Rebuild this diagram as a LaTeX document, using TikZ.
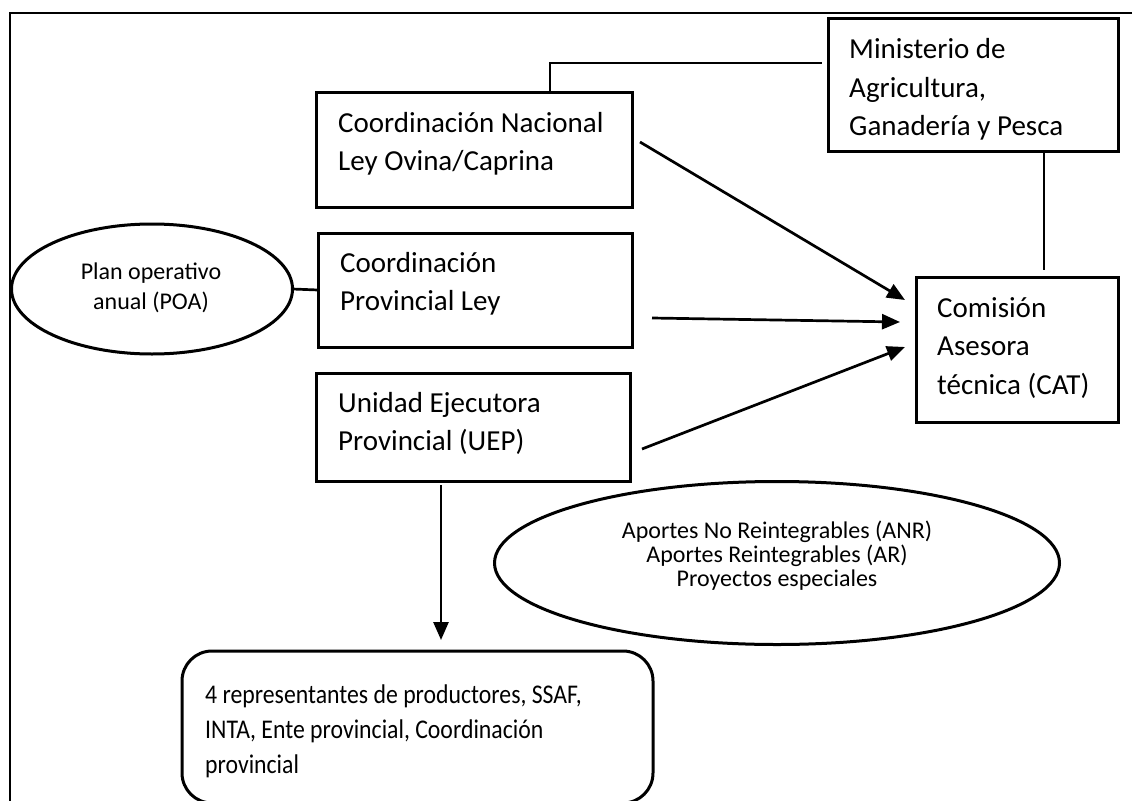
\documentclass[tikz,border=0pt]{standalone}
\usepackage{fontspec}
\setmainfont{Carlito}
\newfontfamily\narrowfont[FakeStretch=0.88]{Carlito}
\usetikzlibrary{arrows.meta,shapes.geometric,calc}
\newcommand\lftlines[1]{\begin{tabular}[t]{@{}l@{}}#1\end{tabular}}
\newcommand\ctrlines[1]{\begin{tabular}[t]{@{}c@{}}#1\end{tabular}}
\begin{document}
\begin{tikzpicture}[x=1pt,y=-1pt,
  box/.style={draw, line width=3pt, rectangle, anchor=north west, inner sep=0pt, outer sep=0pt},
  oval/.style={draw, line width=3pt, ellipse, inner sep=0pt, outer sep=0pt},
  bigtxt/.style={font=\fontsize{29}{38.5}\selectfont, anchor=base west, inner sep=0pt},
  reptxt/.style={font=\narrowfont\fontsize{27}{35}\selectfont, anchor=base west, inner sep=0pt},
  smalltxt/.style={font=\fontsize{24}{30}\selectfont, anchor=base, inner sep=0pt},
  anrtxtstyle/.style={font=\fontsize{24}{23.5}\selectfont, anchor=base, inner sep=0pt},
  conn/.style={line width=2.7pt},
  arr/.style={line width=2.7pt, -{Triangle[length=18pt,width=15pt]}}]
\useasboundingbox (0,0) rectangle (1137,800);
% frame
\draw[line width=2.6pt] (1132,13) -- (10,13) -- (10,805);
% boxes
\node[box, minimum width=316pt, minimum height=115pt] (cn) at (316,92) {};
\node[bigtxt] (cntxt) at (338,132) {\lftlines{Coordinación Nacional\\Ley Ovina/Caprina}};
\node[box, minimum width=314pt, minimum height=114pt] (cp) at (318,233) {};
\node[bigtxt] (cptxt) at (340,272) {\lftlines{Coordinación\\Provincial Ley}};
\node[box, minimum width=314pt, minimum height=108pt] (uep) at (316,373) {};
\node[bigtxt] (ueptxt) at (338,412) {\lftlines{Unidad Ejecutora\\Provincial (UEP)}};
\node[box, minimum width=290pt, minimum height=132pt] (mag) at (828,19) {};
\node[bigtxt] (magtxt) at (849,59) {\lftlines{Ministerio de\\Agricultura,\\Ganadería y Pesca}};
\node[box, minimum width=202pt, minimum height=145pt] (cat) at (916,277) {};
\node[bigtxt] (cattxt) at (937,317) {\lftlines{Comisión\\Asesora\\técnica (CAT)}};
\node[box, rounded corners=30pt, minimum width=471pt, minimum height=152pt] (rep) at (182,651) {};
\node[reptxt] (reptext) at (205,703) {\lftlines{4 representantes de productores, SSAF,\\INTA, Ente provincial, Coordinación\\provincial}};
% ovals
\node[oval, minimum width=281pt, minimum height=130pt] (poa) at (152,289) {};
\node[smalltxt] (poatxt) at (151,279) {\ctrlines{Plan operativo\\anual (POA)}};
\node[oval, minimum width=565pt, minimum height=163pt] (anr) at (777,563) {};
\node[anrtxtstyle] (anrtxt) at (777,538) {\ctrlines{Aportes No Reintegrables (ANR)\\Aportes Reintegrables (AR)\\Proyectos especiales}};
% connectors
\coordinate (j1) at (550,63);
\draw[conn] (cn.north -| j1) -- (j1) -- ([xshift=-6pt]j1 -| mag.west);
\draw[conn] ($(mag.south west)+(216,0)$) -- ($(cat.north west)+(128,-7)$);
\draw[conn] (poa.east) -- (cp.west);
\draw[arr] ($(cn.east)+(8,-7.5)$) -- ($(cat.west)+(-11,-49.5)$);
\draw[arr] ($(cp.east)+(20,28)$) -- ($(cat.west)+(-16,-27.5)$);
\draw[arr] ($(uep.east)+(12,22)$) -- ($(cat.west)+(-11,-2.5)$);
\coordinate (vtop) at (441,485);
\draw[arr] (vtop) -- ($(vtop |- rep.north)+(0,-11)$);
\end{tikzpicture}
\end{document}
